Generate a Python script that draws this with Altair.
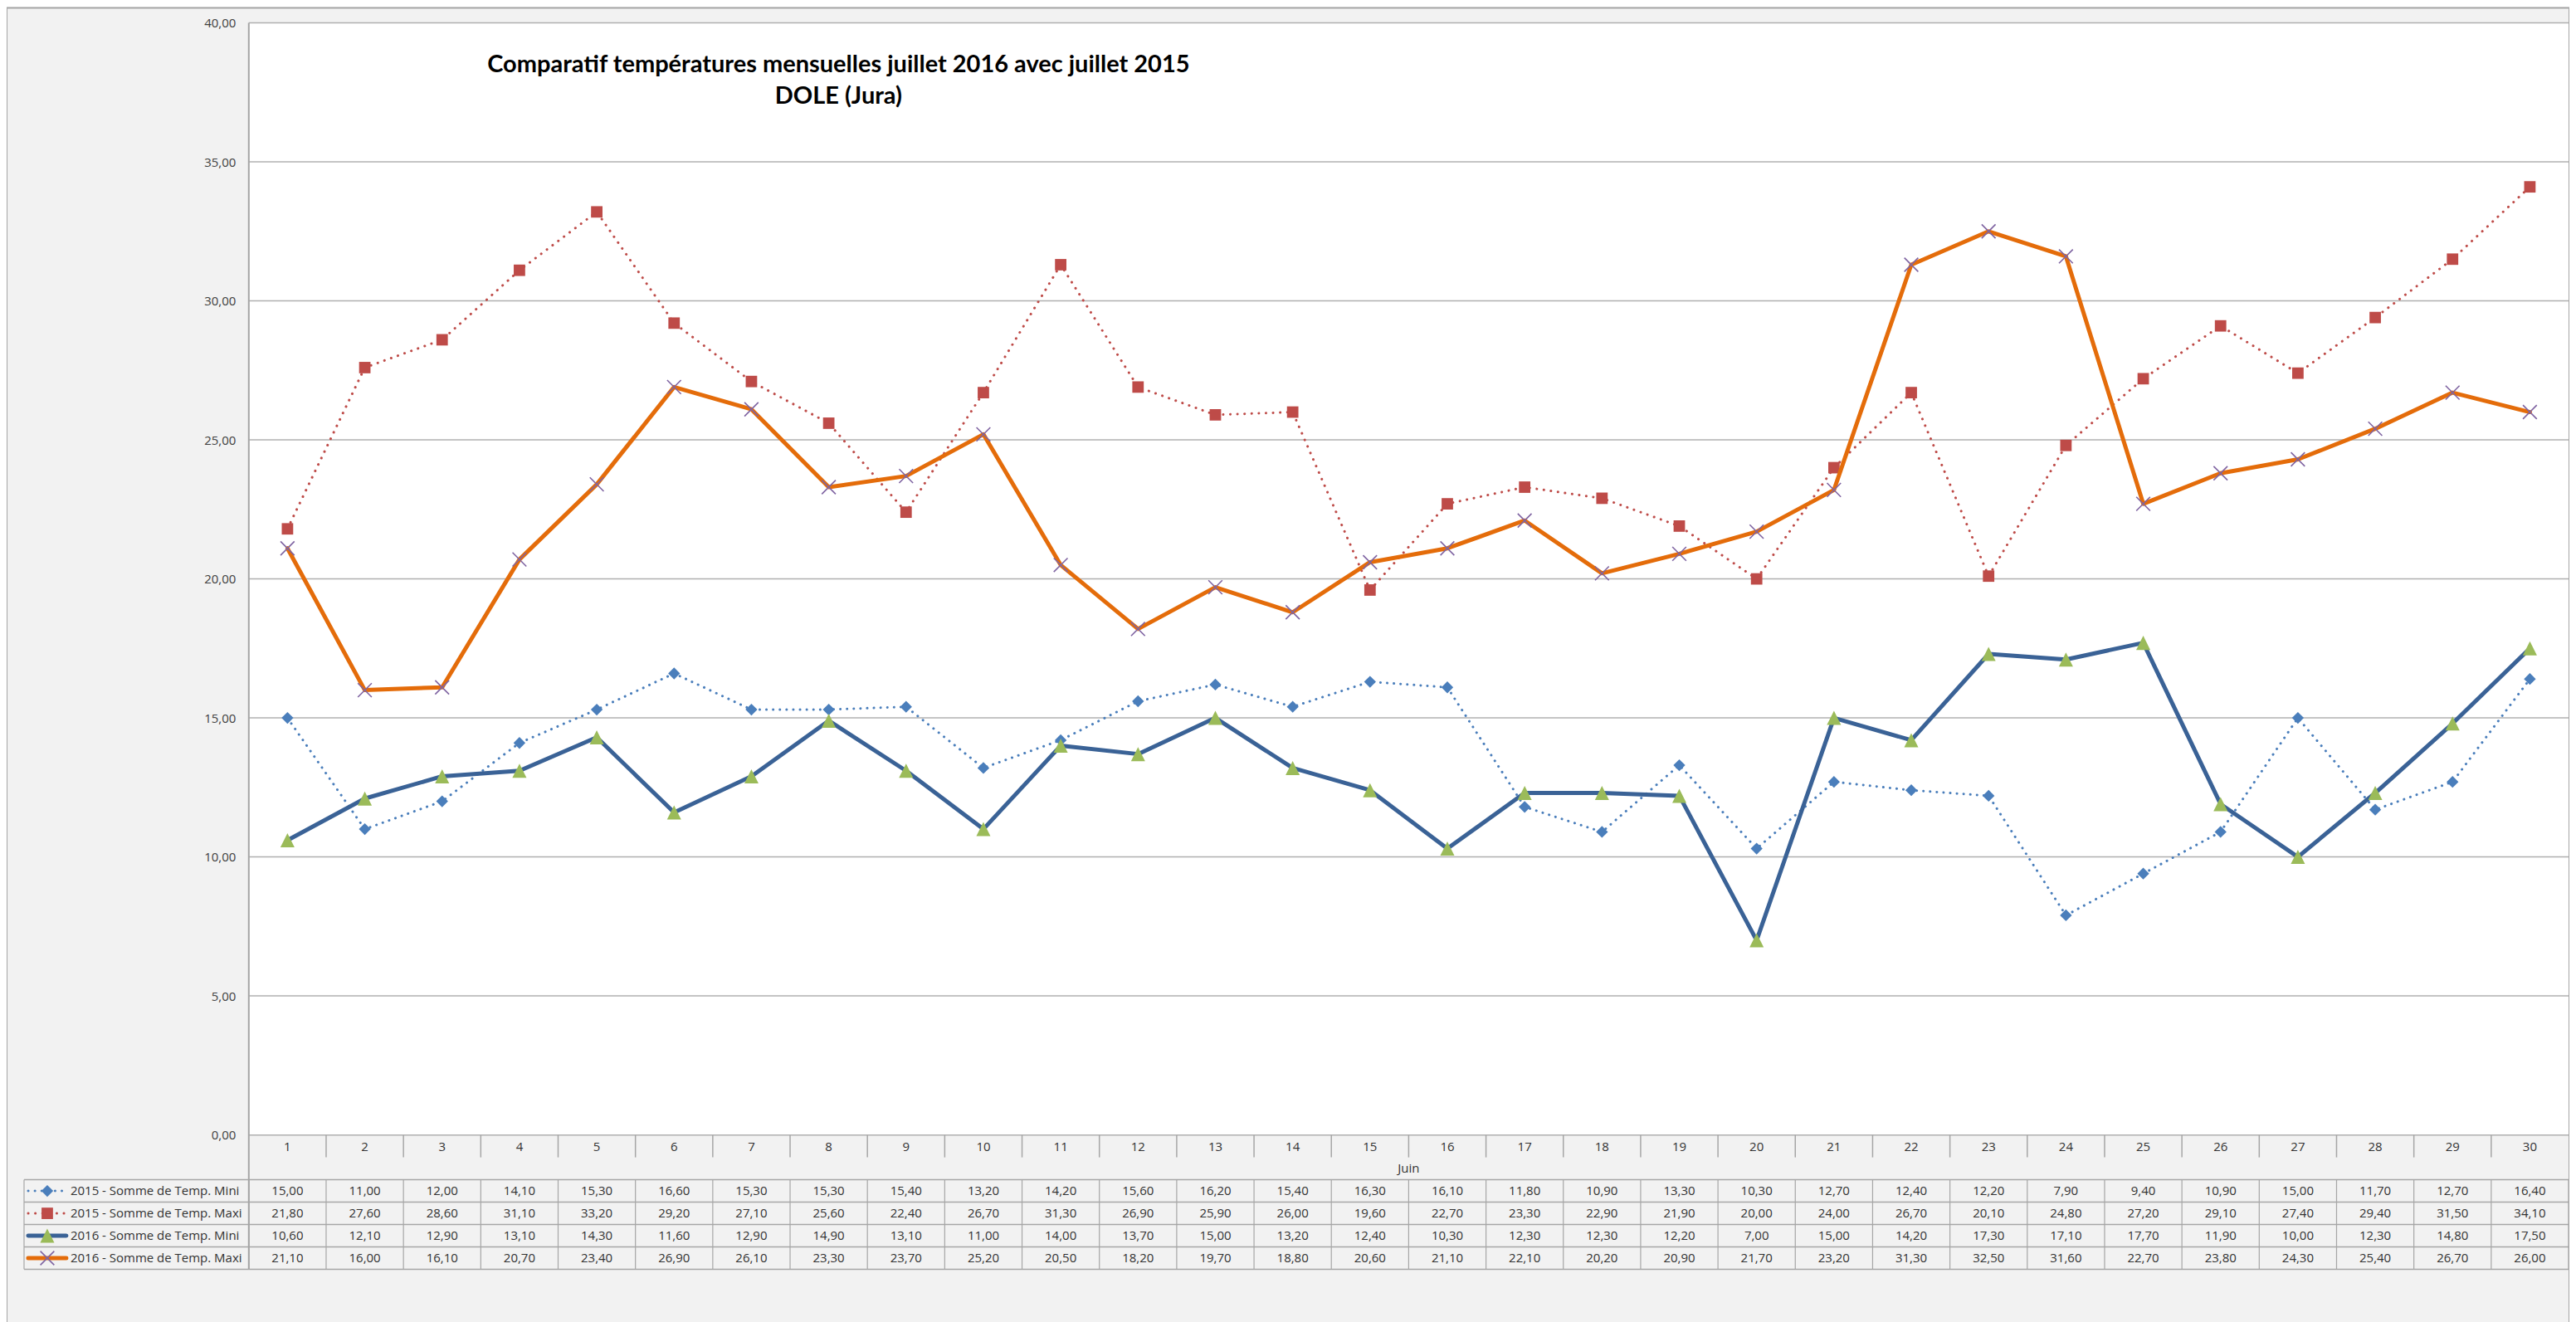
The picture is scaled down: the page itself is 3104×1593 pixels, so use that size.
import altair as alt
import pandas as pd

# ---------------- data ----------------
days = list(range(1, 31))
series_names = [
    "2015 - Somme de Temp. Mini",
    "2015 - Somme de Temp. Maxi",
    "2016 - Somme de Temp. Mini",
    "2016 - Somme de Temp. Maxi",
]
mini_2015 = [15.00, 11.00, 12.00, 14.10, 15.30, 16.60, 15.30, 15.30, 15.40, 13.20,
             14.20, 15.60, 16.20, 15.40, 16.30, 16.10, 11.80, 10.90, 13.30, 10.30,
             12.70, 12.40, 12.20, 7.90, 9.40, 10.90, 15.00, 11.70, 12.70, 16.40]
maxi_2015 = [21.80, 27.60, 28.60, 31.10, 33.20, 29.20, 27.10, 25.60, 22.40, 26.70,
             31.30, 26.90, 25.90, 26.00, 19.60, 22.70, 23.30, 22.90, 21.90, 20.00,
             24.00, 26.70, 20.10, 24.80, 27.20, 29.10, 27.40, 29.40, 31.50, 34.10]
mini_2016 = [10.60, 12.10, 12.90, 13.10, 14.30, 11.60, 12.90, 14.90, 13.10, 11.00,
             14.00, 13.70, 15.00, 13.20, 12.40, 10.30, 12.30, 12.30, 12.20, 7.00,
             15.00, 14.20, 17.30, 17.10, 17.70, 11.90, 10.00, 12.30, 14.80, 17.50]
maxi_2016 = [21.10, 16.00, 16.10, 20.70, 23.40, 26.90, 26.10, 23.30, 23.70, 25.20,
             20.50, 18.20, 19.70, 18.80, 20.60, 21.10, 22.10, 20.20, 20.90, 21.70,
             23.20, 31.30, 32.50, 31.60, 22.70, 23.80, 24.30, 25.40, 26.70, 26.00]
series_values = [mini_2015, maxi_2015, mini_2016, maxi_2016]
y_ticks = [0, 5, 10, 15, 20, 25, 30, 35, 40]
x_title = "Juin"
title_lines = ["Comparatif températures mensuelles juillet 2016 avec juillet 2015",
               "DOLE (Jura)"]

# ---------------- geometry (page pixels measured on the reference) ----------------
PAGE_X0, PAGE_Y0 = 8, 9          # top-left corner of the view on the page
VIEW_W, VIEW_H = 3090, 1589
PLOT_L, PLOT_R = 300, 3097       # page x of the plot's left / right edges
PLOT_T, PLOT_B = 27, 1368        # page y of 40 and 0
PPD = (PLOT_R - PLOT_L) / 30.0
PPU = (PLOT_B - PLOT_T) / 40.0
X_MIN = 0.5 - (PLOT_L - PAGE_X0) / PPD
X_MAX = X_MIN + VIEW_W / PPD
Y_MAX = 40 + (PLOT_T - PAGE_Y0) / PPU
Y_MIN = Y_MAX - VIEW_H / PPU


def xd(px):
    return X_MIN + (px - PAGE_X0) / PPD


def yd(py):
    return Y_MAX - (py - PAGE_Y0) / PPU


X_LO, X_HI = 0.5, 30.5
CAT_LABEL_Y = yd(1382)
CAT_TICK_B = yd(1395)
MONTH_Y = yd(1408)
TABLE_T, ROW_H = 1422, 27
ROW_LINES = [yd(TABLE_T + k * ROW_H) for k in range(5)]
ROW_CENTERS = [yd(TABLE_T + ROW_H / 2 + k * ROW_H) for k in range(4)]
LEG_L = xd(29)
SYM_X0, SYM_X1, SYM_XM = xd(34), xd(80), xd(57)
LEG_TEXT_X = xd(85)

GRID_COLOR = "#b0b0b0"
TABLE_COLOR = "#a6a6a6"
TEXT_COLOR = "#333333"
FONT = "Open Sans"

xscale = alt.Scale(domain=[X_MIN, X_MAX], nice=False, zero=False)
yscale = alt.Scale(domain=[Y_MIN, Y_MAX], nice=False, zero=False)
yaxis = alt.Axis(
    values=y_ticks, title=None, grid=False, domain=False, ticks=False, tickSize=0,
    labelPadding=0, offset=-(284 - PAGE_X0), labelFont=FONT, labelFontSize=15,
    labelColor="#404040", labelExpr="replace(format(datum.value, '.2f'), '.', ',')",
)


def X(f):
    return alt.X(f, type="quantitative", scale=xscale, axis=None)


def Y(f):
    return alt.Y(f, type="quantitative", scale=yscale, axis=yaxis)


layers = []

# white plot area
bg_df = pd.DataFrame({"x": [X_LO], "x2": [X_HI], "y": [0], "y2": [40]})
layers.append(alt.Chart(bg_df).mark_rect(fill="white").encode(
    x=X("x"), x2="x2", y=Y("y"), y2="y2"))

# horizontal gridlines
grid_df = pd.DataFrame({"y": y_ticks, "x": X_LO, "x2": X_HI})
layers.append(alt.Chart(grid_df).mark_rule(color=GRID_COLOR, strokeWidth=1.5).encode(
    x=X("x"), x2="x2", y=Y("y")))

# plot left border running down through the table
lb_df = pd.DataFrame({"x": [X_LO], "y": [40], "y2": [ROW_LINES[-1]]})
layers.append(alt.Chart(lb_df).mark_rule(color=TABLE_COLOR, strokeWidth=2).encode(
    x=X("x"), y=Y("y"), y2="y2"))

# category separators below the axis
sep_df = pd.DataFrame({"x": [d + 0.5 for d in days[:-1]], "y": 0, "y2": CAT_TICK_B})
layers.append(alt.Chart(sep_df).mark_rule(color=TABLE_COLOR, strokeWidth=1.5).encode(
    x=X("x"), y=Y("y"), y2="y2"))

# data table grid
hl_df = pd.DataFrame({"y": ROW_LINES, "x": LEG_L, "x2": X_HI})
layers.append(alt.Chart(hl_df).mark_rule(color=TABLE_COLOR, strokeWidth=1.5).encode(
    x=X("x"), x2="x2", y=Y("y")))
vl_df = pd.DataFrame({"x": [LEG_L] + [d + 0.5 for d in [0] + days],
                      "y": ROW_LINES[0], "y2": ROW_LINES[-1]})
layers.append(alt.Chart(vl_df).mark_rule(color=TABLE_COLOR, strokeWidth=1.2).encode(
    x=X("x"), y=Y("y"), y2="y2"))

# category labels and month label
cat_df = pd.DataFrame({"x": days, "y": CAT_LABEL_Y, "t": [str(d) for d in days]})
layers.append(alt.Chart(cat_df).mark_text(font=FONT, fontSize=15, color=TEXT_COLOR,
                                          baseline="middle").encode(
    x=X("x"), y=Y("y"), text="t:N"))
month_df = pd.DataFrame({"x": [(X_LO + X_HI) / 2], "y": [MONTH_Y], "t": [x_title]})
layers.append(alt.Chart(month_df).mark_text(font=FONT, fontSize=15, color=TEXT_COLOR,
                                            baseline="middle").encode(
    x=X("x"), y=Y("y"), text="t:N"))

# table values
tab_rows = []
for si, vals in enumerate(series_values):
    for d, v in zip(days, vals):
        tab_rows.append({"x": d, "y": ROW_CENTERS[si], "t": f"{v:.2f}".replace(".", ",")})
tab_df = pd.DataFrame(tab_rows)
layers.append(alt.Chart(tab_df).mark_text(font=FONT, fontSize=15, color=TEXT_COLOR,
                                          baseline="middle").encode(
    x=X("x"), y=Y("y"), text="t:N"))

# legend texts
leg_df = pd.DataFrame({"x": LEG_TEXT_X, "y": ROW_CENTERS, "t": series_names})
layers.append(alt.Chart(leg_df).mark_text(font=FONT, fontSize=15, color=TEXT_COLOR,
                                          baseline="middle", align="left").encode(
    x=X("x"), y=Y("y"), text="t:N"))

# series styles
styles = [
    dict(color="#4a7ebb", width=3, dash=[0.1, 8], shape="diamond", size=205,
         fill="#4a7ebb", stroke=None),
    dict(color="#be4b48", width=3, dash=[0.1, 8.5], shape="square", size=190,
         fill="#be4b48", stroke=None),
    dict(color="#3a6296", width=5, dash=None, shape="M0,-1L1,1L-1,1Z", size=290,
         fill="#9bbb59", stroke=None),
    dict(color="#e46c0a", width=5, dash=None, shape="M-1,-1L1,1M1,-1L-1,1", size=280,
         fill=None, stroke="#7f64a2"),
]

for si, vals in enumerate(series_values):
    st = styles[si]
    line_df = pd.DataFrame(
        [{"x": d, "y": v, "grp": "main"} for d, v in zip(days, vals)]
        + [{"x": SYM_X0, "y": ROW_CENTERS[si], "grp": "legend"},
           {"x": SYM_X1, "y": ROW_CENTERS[si], "grp": "legend"}])
    line_kw = dict(color=st["color"], strokeWidth=st["width"], strokeCap="round",
                   strokeJoin="round")
    if st["dash"]:
        line_kw["strokeDash"] = st["dash"]
    layers.append(alt.Chart(line_df).mark_line(**line_kw).encode(
        x=X("x"), y=Y("y"), detail="grp:N", order="x:Q"))

    pt_df = pd.DataFrame(
        [{"x": d, "y": v} for d, v in zip(days, vals)]
        + [{"x": SYM_XM, "y": ROW_CENTERS[si]}])
    if st["fill"]:
        pt = alt.Chart(pt_df).mark_point(shape=st["shape"], size=st["size"], filled=True,
                                         fill=st["fill"], color=st["fill"], opacity=1,
                                         strokeWidth=0.5)
    else:
        pt = alt.Chart(pt_df).mark_point(shape=st["shape"], size=st["size"], filled=False,
                                         stroke=st["stroke"], color=st["stroke"], opacity=1,
                                         strokeWidth=1.6)
    layers.append(pt.encode(x=X("x"), y=Y("y")))

# chart title inside the plot area
title_df = pd.DataFrame({"a": [0]})
layers.append(alt.Chart(title_df).mark_text(
    text=title_lines, font="Lato", fontSize=29, fontWeight="bold", color="black",
    align="center", baseline="middle", lineHeight=38).encode(
    x=alt.value(1011 - PAGE_X0), y=alt.value(78 - PAGE_Y0)))

chart = alt.layer(*layers).properties(
    width=VIEW_W, height=VIEW_H,
    padding={"left": 0, "top": 1, "right": 0, "bottom": 0},
    autosize=alt.AutoSizeParams(type="none"),
    background="#f2f2f2",
).configure_view(stroke="#a6a6a6", strokeWidth=2)

chart.save("out.html", embed_options={"renderer": "svg", "actions": False})
